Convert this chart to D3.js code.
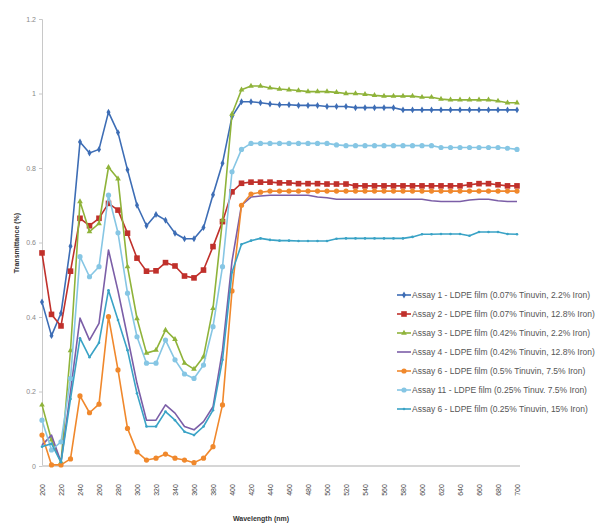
<html>
  <head>
    <script src="https://d3js.org/d3.v7.min.js"></script>
    <style>
      body { margin: 0; background: #fff; }
      text { font-family: "Liberation Sans", Arial, sans-serif; }
      .axis-label { font-size: 7px; font-weight: bold; fill: #333; }
      .legend-text { font-size: 8.5px; fill: #555; }
    </style>
  </head>
  <body>
    <svg id="chart" width="604" height="524"></svg>
    <script>
      // wavelengths (nm), one point every 10 nm
      const wavelengths = [200,210,220,230,240,250,260,270,280,290,300,310,320,330,340,350,360,370,380,390,
        400,410,420,430,440,450,460,470,480,490,500,510,520,530,540,550,560,570,580,590,
        600,610,620,630,640,650,660,670,680,690,700];
      const xTickLabels = [200,220,240,260,280,300,320,340,360,380,400,420,440,460,480,500,520,540,560,580,600,620,640,660,680,700];
      const yTickLabels = [0, 0.2, 0.4, 0.6, 0.8, 1, 1.2];

      const assay1 = [0.44,0.35,0.41,0.59,0.87,0.84,0.85,0.95,0.895,0.795,0.70,0.645,0.675,0.66,0.625,0.61,0.61,0.64,0.728,0.813,
        0.938,0.978,0.978,0.975,0.972,0.97,0.97,0.968,0.968,0.968,0.965,0.965,0.965,0.962,0.962,0.962,0.962,0.962,0.956,0.956,
        0.956,0.956,0.956,0.956,0.956,0.956,0.956,0.956,0.956,0.956,0.956];
      const assay2 = [0.572,0.407,0.376,0.523,0.665,0.645,0.665,0.705,0.687,0.625,0.558,0.523,0.524,0.546,0.537,0.510,0.505,0.526,0.589,0.656,
        0.736,0.759,0.762,0.762,0.762,0.760,0.760,0.758,0.758,0.758,0.757,0.757,0.757,0.752,0.752,0.752,0.752,0.752,0.752,0.752,
        0.752,0.752,0.752,0.752,0.752,0.755,0.758,0.758,0.755,0.752,0.752];
      const assay3 = [0.164,0.07,0.01,0.31,0.71,0.629,0.651,0.802,0.771,0.535,0.396,0.303,0.311,0.365,0.340,0.276,0.260,0.293,0.423,0.66,
        0.945,1.01,1.02,1.02,1.015,1.012,1.01,1.008,1.005,1.005,1.005,1.003,1.0,1.0,0.998,0.995,0.993,0.993,0.993,0.993,
        0.99,0.99,0.985,0.983,0.983,0.983,0.983,0.983,0.98,0.975,0.975];
      const assay4 = [0.056,0.083,0.01,0.2,0.397,0.338,0.383,0.58,0.47,0.347,0.222,0.123,0.123,0.164,0.142,0.106,0.097,0.119,0.159,0.311,
        0.55,0.70,0.722,0.725,0.727,0.727,0.727,0.727,0.727,0.722,0.72,0.716,0.716,0.716,0.716,0.716,0.716,0.716,0.716,0.716,
        0.716,0.712,0.71,0.71,0.71,0.714,0.716,0.716,0.712,0.71,0.71];
      const assay6a = [0.083,0.003,0.003,0.019,0.188,0.143,0.166,0.401,0.258,0.101,0.038,0.016,0.021,0.032,0.021,0.016,0.009,0.021,0.052,0.164,
        0.47,0.70,0.73,0.735,0.738,0.738,0.738,0.738,0.738,0.738,0.738,0.738,0.738,0.738,0.738,0.738,0.738,0.738,0.738,0.738,
        0.738,0.738,0.738,0.738,0.738,0.738,0.738,0.738,0.738,0.738,0.738];
      const assay11 = [0.123,0.043,0.065,0.235,0.562,0.508,0.535,0.727,0.626,0.464,0.347,0.276,0.276,0.338,0.285,0.247,0.235,0.271,0.374,0.535,
        0.79,0.85,0.866,0.866,0.866,0.866,0.866,0.866,0.866,0.866,0.866,0.862,0.86,0.86,0.86,0.86,0.86,0.86,0.86,0.86,
        0.86,0.86,0.855,0.855,0.855,0.855,0.855,0.855,0.855,0.853,0.85];
      const assay6b = [0.052,0.06,0.01,0.18,0.343,0.292,0.331,0.472,0.392,0.311,0.195,0.106,0.106,0.146,0.123,0.092,0.083,0.106,0.150,0.285,
        0.52,0.595,0.605,0.611,0.607,0.605,0.605,0.604,0.604,0.604,0.604,0.61,0.611,0.611,0.611,0.611,0.611,0.611,0.611,0.615,
        0.622,0.622,0.623,0.623,0.623,0.618,0.628,0.628,0.628,0.623,0.622];

      const seriesNames = [
        "Assay 1 - LDPE film (0.07% Tinuvin, 2.2% Iron)",
        "Assay 2 - LDPE film (0.07% Tinuvin, 12.8% Iron)",
        "Assay 3 - LDPE film (0.42% Tinuvin, 2.2% Iron)",
        "Assay 4 - LDPE film (0.42% Tinuvin, 12.8% Iron)",
        "Assay 6 - LDPE film (0.5% Tinuvin, 7.5% Iron)",
        "Assay 11 - LDPE film (0.25% Tinuv. 7.5% Iron)",
        "Assay 6 - LDPE film (0.25% Tinuvin, 15% Iron)"
      ];
      const seriesValues = [assay1, assay2, assay3, assay4, assay6a, assay11, assay6b];
      const colors = ["#3d6db5", "#c0302b", "#8fb33a", "#7b5ea7", "#f0882c", "#86c6e4", "#3aa3c6"];
      const markers = ["diamond", "square", "triangle", "none", "circle", "circle", "small"];

      const svg = d3.select("svg#chart");

      const x = d3.scaleLinear().domain([200, 700]).range([42, 517]);
      const y = d3.scaleLinear().domain([0, 1.2]).range([466, 19]);

      // y axis
      const yAxis = svg.append("g")
        .attr("transform", "translate(42,0)")
        .call(d3.axisLeft(y).tickValues(yTickLabels).tickSize(3).tickFormat(d3.format("~g")));
      yAxis.select(".domain").attr("stroke", "#c8c8c8");
      yAxis.selectAll(".tick line").attr("stroke", "#c8c8c8");
      yAxis.selectAll("text").attr("fill", "#888").style("font-size", "7px").attr("x", -6);

      // x axis
      const xAxis = svg.append("g")
        .attr("transform", "translate(0,466)")
        .call(d3.axisBottom(x).tickValues(xTickLabels).tickSize(0));
      xAxis.select(".domain").attr("stroke", "#d6d6d6").attr("stroke-width", 2)
        .attr("d", "M42,0H520");
      xAxis.selectAll("text")
        .attr("fill", "#444")
        .style("font-size", "7px")
        .attr("text-anchor", "middle")
        .attr("transform", "translate(0,24) rotate(-90)")
        .attr("x", 0).attr("y", 0).attr("dy", "0.35em");

      svg.append("text").attr("class", "axis-label")
        .attr("x", 261).attr("y", 521).attr("text-anchor", "middle")
        .text("Wavelength (nm)");
      svg.append("text").attr("class", "axis-label")
        .attr("transform", "translate(19,243) rotate(-90)")
        .attr("text-anchor", "middle")
        .text("Transmittance (%)");

      const line = d3.line()
        .x((d, i) => x(wavelengths[i]))
        .y(d => y(d));

      function drawMarker(g, kind, color, cx, cy) {
        if (kind === "diamond") {
          g.append("path").attr("d", d3.symbol(d3.symbolDiamond, 14)()).attr("transform", `translate(${cx},${cy})`).attr("fill", color);
        } else if (kind === "square") {
          g.append("rect").attr("x", cx - 2.8).attr("y", cy - 2.8).attr("width", 5.6).attr("height", 5.6).attr("fill", color);
        } else if (kind === "triangle") {
          g.append("path").attr("d", d3.symbol(d3.symbolTriangle, 14)()).attr("transform", `translate(${cx},${cy})`).attr("fill", color);
        } else if (kind === "circle") {
          g.append("circle").attr("cx", cx).attr("cy", cy).attr("r", 2.6).attr("fill", color);
        } else if (kind === "small") {
          g.append("circle").attr("cx", cx).attr("cy", cy).attr("r", 1.3).attr("fill", color);
        }
      }

      seriesValues.forEach((vals, s) => {
        const g = svg.append("g");
        g.append("path")
          .datum(vals)
          .attr("d", line)
          .attr("fill", "none")
          .attr("stroke", colors[s])
          .attr("stroke-width", 1.6)
          .attr("stroke-linejoin", "round");
        vals.forEach((v, i) => drawMarker(g, markers[s], colors[s], x(wavelengths[i]), y(v)));
      });

      // legend
      const legend = svg.append("g");
      seriesNames.forEach((name, i) => {
        const ly = 295 + i * 19;
        legend.append("line")
          .attr("x1", 397).attr("x2", 411).attr("y1", ly).attr("y2", ly)
          .attr("stroke", colors[i]).attr("stroke-width", 1.6);
        drawMarker(legend, markers[i], colors[i], 404, ly);
        legend.append("text").attr("class", "legend-text")
          .attr("x", 412).attr("y", ly).attr("dy", "0.35em")
          .text(name);
      });
    </script>
  </body>
</html>
